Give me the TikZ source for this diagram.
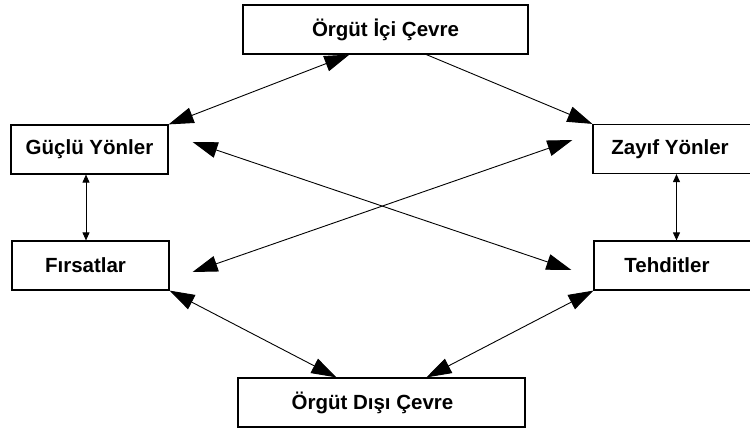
\documentclass[tikz,border=0pt]{standalone}
\usepackage{fontspec}
\setmainfont{Liberation Sans}
\usetikzlibrary{arrows.meta}
\begin{document}
\begin{tikzpicture}[x=1pt,y=-1pt,
  box/.style={draw, line width=1.2pt, minimum height=49pt, inner sep=0pt,
    font=\fontsize{20.5}{23}\selectfont\bfseries},
  link/.style={line width=0.9pt, {Triangle[length=25pt,width=16pt]}-{Triangle[length=25pt,width=16pt]}},
  onelink/.style={line width=0.9pt, -{Triangle[length=25pt,width=16pt]}},
  shortlink/.style={line width=0.9pt, {Triangle[length=8pt,width=7pt]}-{Triangle[length=8pt,width=7pt]}}]
\clip (0,0) rectangle (750,430);
\fill[white] (0,0) rectangle (750,430);

% environment boxes
\node[box, minimum width=285pt] (ic) at (385.5,29.5) {Örgüt İçi Çevre};
\node[box, minimum width=287pt] (dis) at (381.5,402.5) {\hspace*{-18pt}Örgüt Dışı Çevre};

% SWOT boxes
\node[box, minimum width=157pt] (guclu) at (89.5,149.5) {Güçlü Yönler};
\node[box, minimum width=157pt] (firsat) at (90.5,265.5) {\hspace*{-10pt}Fırsatlar};
\node[box, minimum width=167pt] (zayif) at (676.5,149) {\hspace*{-13pt}Zayıf Yönler};
\node[box, minimum width=166pt] (tehdit) at (677,265.5) {\hspace*{-20pt}Tehditler};

% internal environment links
\draw[link] ([xshift=107pt]ic.south west) -- (guclu.north east);
\draw[onelink] ([xshift=184pt]ic.south west) -- (zayif.north west);

% crossing links
\draw[link] ([shift={(-20,-9)}]zayif.west) -- ([shift={(23,6.5)}]firsat.east);
\draw[link] ([shift={(24,-7.5)}]guclu.east) -- ([shift={(-22,4.5)}]tehdit.west);

% vertical links
\draw[shortlink] ([xshift=-3.5pt]guclu.south) -- ([xshift=-4.5pt]firsat.north);
\draw[shortlink] (zayif.south) -- ([xshift=-0.5pt]tehdit.north);

% external environment links
\draw[link] (firsat.south east) -- ([xshift=99pt]dis.north west);
\draw[link] (tehdit.south west) -- ([xshift=189pt]dis.north west);
\end{tikzpicture}
\end{document}
